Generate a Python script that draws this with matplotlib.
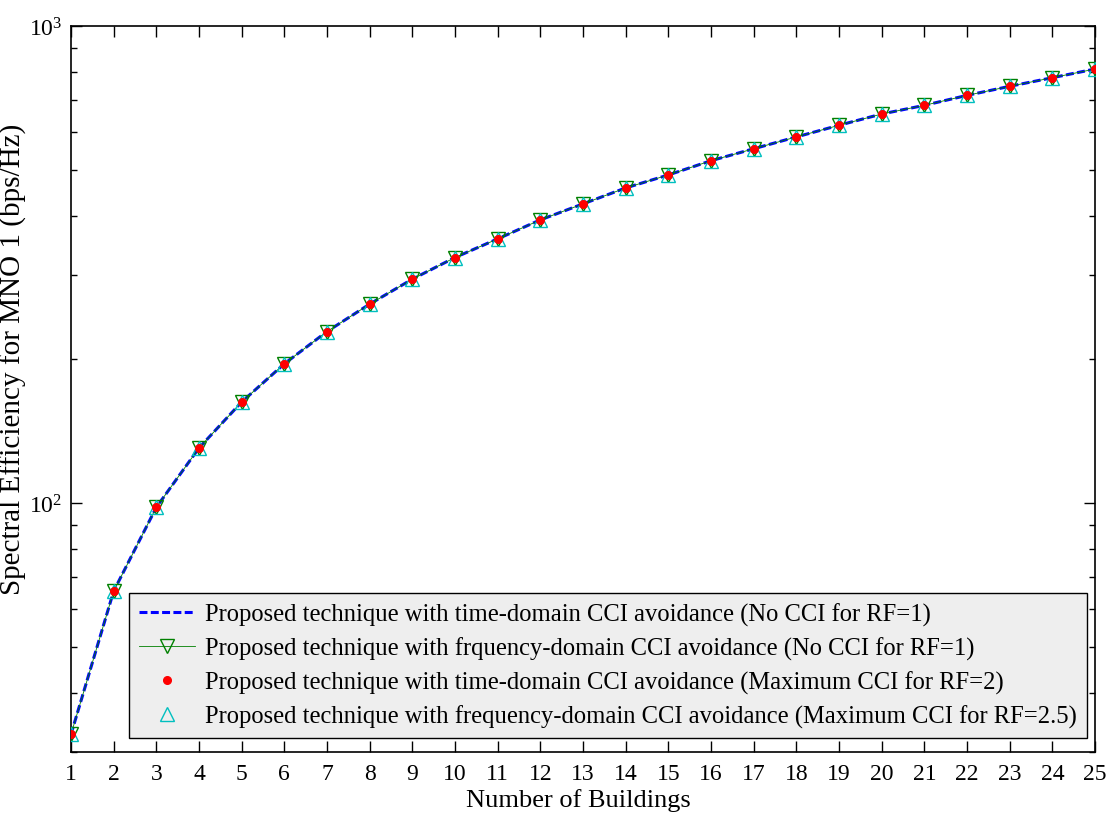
import matplotlib
matplotlib.use("Agg")
import matplotlib.pyplot as plt
import numpy as np

plt.rcParams['font.family'] = ['Liberation Serif', 'DejaVu Serif']
plt.rcParams['mathtext.fontset'] = 'custom'
plt.rcParams['mathtext.rm'] = 'Liberation Serif'
plt.rcParams['mathtext.it'] = 'Liberation Serif:italic'

buildings = list(range(1, 26))
spectral_eff = [32.7, 65.3, 97.9, 130.4, 162.8, 195.8, 228.8, 261.2, 294.7, 327.1,
                357.9, 392.3, 423.8, 457.7, 487.3, 522.0, 553.0, 585.5, 619.4, 654.0,
                682.0, 715.6, 747.6, 779.3, 812.7]
labels = [
    "Proposed technique with time-domain CCI avoidance (No CCI for RF=1)",
    "Proposed technique with frquency-domain CCI avoidance (No CCI for RF=1)",
    "Proposed technique with time-domain CCI avoidance (Maximum CCI for RF=2)",
    "Proposed technique with frequency-domain CCI avoidance (Maximum CCI for RF=2.5)",
]
x_label = "Number of Buildings"
y_label = "Spectral Efficiency for MNO 1 (bps/Hz)"

fig = plt.figure(figsize=(11.14, 8.2), dpi=100)
ax = fig.add_axes([0.0637, 0.0813, 0.9193, 0.8857])

x = np.array(buildings)
y = np.array(spectral_eff)
ax.plot(x, y, '--', color='#0000FF', lw=2.2, dashes=(2.6, 1.1), label=labels[0], zorder=3)
ax.plot(x, y, '-', color='#008000', lw=0.6, marker='v', markersize=9.5,
        markerfacecolor='none', markeredgecolor='#008000', markeredgewidth=1.0,
        label=labels[1], zorder=4)
ax.plot(x, y, linestyle='none', marker='o', markersize=5.5, color='#FF0000',
        label=labels[2], zorder=5)
ax.plot(x, y, linestyle='none', marker='^', markersize=9.5, markerfacecolor='none',
        markeredgecolor='#00BFBF', markeredgewidth=1.0, label=labels[3], zorder=4)

ax.set_yscale('log')
ax.set_xlim(1, 25)
ax.set_ylim(30, 1000)
ax.set_xticks(buildings)
ax.set_xticklabels([str(b) for b in buildings])
ax.tick_params(which='both', direction='in', top=True, right=True, labelsize=17, width=1.0)
ax.tick_params(which='major', length=8)
ax.tick_params(which='minor', length=4)
ax.tick_params(axis='x', pad=8)
ax.tick_params(axis='y', pad=6)
for s in ax.spines.values():
    s.set_linewidth(1.2)

ax.set_xlabel(x_label, fontsize=19)
ax.set_ylabel(y_label, fontsize=21)
ax.xaxis.set_label_coords(0.4957, -0.0485)
ax.yaxis.set_label_coords(-0.043, 0.543)

leg = ax.legend(loc='lower left', bbox_to_anchor=(0.0566, 0.0197), fontsize=17.7,
                frameon=True, fancybox=False, handlelength=2.3, handletextpad=0.4,
                borderpad=0.4, labelspacing=0.43, borderaxespad=0)
leg.get_frame().set_facecolor('#EEEEEE')
leg.get_frame().set_edgecolor('black')
leg.get_frame().set_linewidth(1.0)
leg.get_frame().set_alpha(1)

fig.savefig("out.png", dpi=100)
